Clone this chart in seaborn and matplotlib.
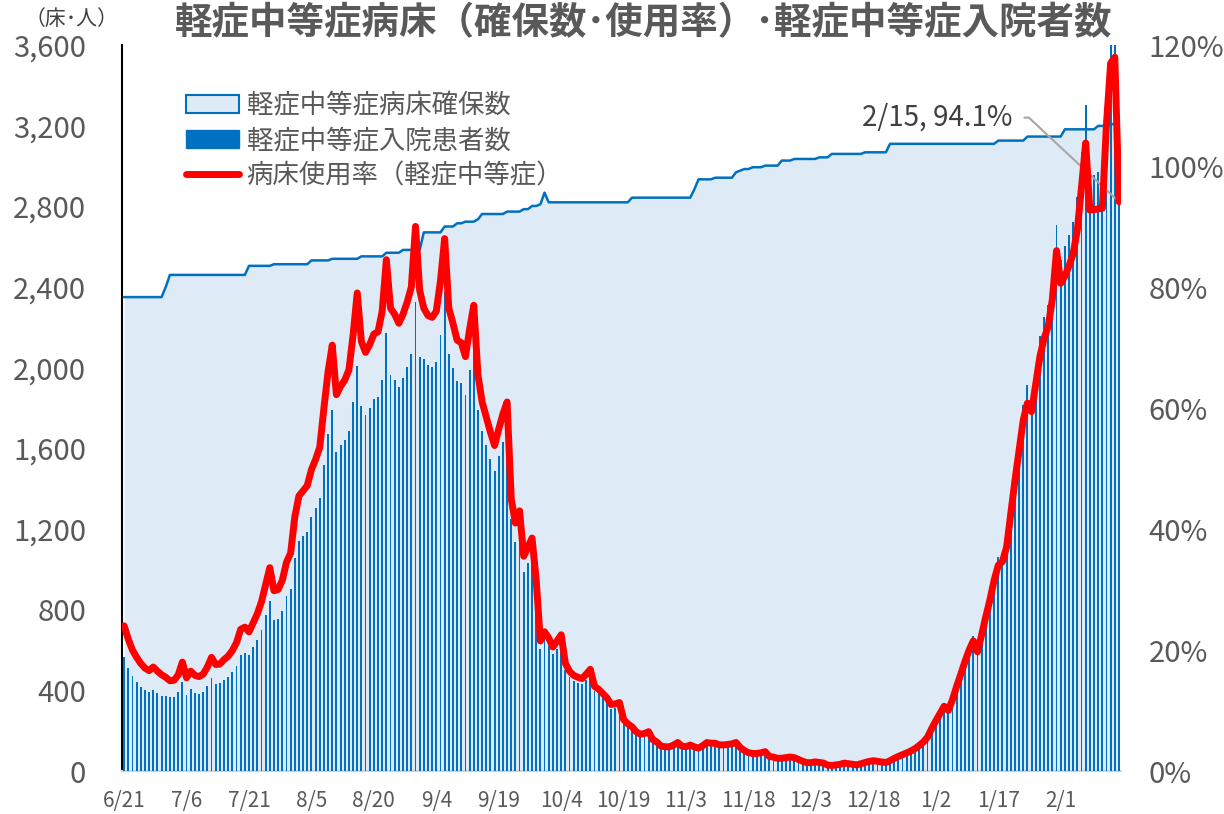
import numpy as np
import pandas as pd
import seaborn as sns
import matplotlib.pyplot as plt
from matplotlib.patches import Patch
from matplotlib.lines import Line2D
from matplotlib.ticker import FuncFormatter

sns.set_theme(style="white")
plt.rcParams['font.family'] = ['Noto Sans CJK JP', 'DejaVu Sans']

#-----------------------------------#
# Data (one value per day, 6/21 - 2/15)
#-----------------------------------#

# secured beds (軽症中等症病床確保数)
capacity = [
    2350, 2350, 2350, 2350, 2350, 2350, 2350, 2350, 2350, 2350, 2400, 2460, 2460, 2460, 2460,
    2460, 2460, 2460, 2460, 2460, 2460, 2460, 2460, 2460, 2460, 2460, 2460, 2460, 2460, 2460,
    2505, 2505, 2505, 2505, 2505, 2505, 2513, 2513, 2513, 2513, 2513, 2513, 2513, 2513, 2513,
    2532, 2532, 2532, 2532, 2532, 2540, 2540, 2540, 2540, 2540, 2540, 2540, 2552, 2552, 2552,
    2552, 2552, 2552, 2570, 2570, 2570, 2570, 2584, 2584, 2584, 2584, 2584, 2671, 2671, 2671,
    2671, 2671, 2700, 2700, 2700, 2716, 2716, 2724, 2724, 2724, 2736, 2762, 2762, 2762, 2762,
    2762, 2762, 2774, 2774, 2774, 2774, 2786, 2786, 2802, 2802, 2810, 2868, 2820, 2820, 2820,
    2820, 2820, 2820, 2820, 2820, 2820, 2820, 2820, 2820, 2820, 2820, 2820, 2820, 2820, 2820,
    2820, 2820, 2843, 2843, 2843, 2843, 2843, 2843, 2843, 2843, 2843, 2843, 2843, 2843, 2843,
    2843, 2843, 2885, 2934, 2934, 2934, 2934, 2942, 2942, 2942, 2942, 2942, 2969, 2977, 2985,
    2985, 2994, 2994, 2994, 3002, 3002, 3002, 3002, 3027, 3027, 3027, 3035, 3035, 3035, 3035,
    3035, 3035, 3043, 3043, 3043, 3060, 3060, 3060, 3060, 3060, 3060, 3060, 3060, 3068, 3068,
    3068, 3068, 3068, 3068, 3110, 3110, 3110, 3110, 3110, 3110, 3110, 3110, 3110, 3110, 3110,
    3110, 3110, 3110, 3110, 3110, 3110, 3110, 3110, 3110, 3110, 3110, 3110, 3110, 3110, 3110,
    3126, 3126, 3126, 3126, 3126, 3126, 3126, 3146, 3146, 3146, 3146, 3146, 3146, 3146, 3146,
    3146, 3182, 3182, 3182, 3182, 3182, 3182, 3182, 3182, 3199, 3199, 3199, 3208, 3208, 3208,
]

# inpatients (軽症中等症入院患者数)
patients = [
    564, 512, 470, 442, 418, 400, 390, 404, 388, 374, 372, 367, 369, 391, 443,
    379, 406, 389, 384, 394, 423, 462, 433, 435, 453, 467, 490, 522, 576, 585,
    576, 614, 651, 701, 772, 842, 749, 754, 792, 867, 905, 1055, 1143, 1164, 1186,
    1261, 1304, 1355, 1519, 1671, 1788, 1580, 1615, 1641, 1684, 1829, 2007, 1812, 1766, 1799,
    1843, 1853, 1940, 2172, 1966, 1940, 1902, 1951, 2003, 2067, 2326, 2054, 2043, 2011, 2003,
    2030, 2164, 2376, 2066, 1998, 1934, 1923, 1866, 1989, 2097, 1792, 1685, 1616, 1547, 1486,
    1561, 1630, 1692, 1248, 1137, 1193, 989, 1031, 1079, 883, 604, 660, 620, 578, 606,
    635, 502, 465, 446, 437, 431, 451, 474, 395, 381, 361, 341, 310, 313, 319,
    240, 220, 208, 185, 173, 176, 185, 148, 136, 117, 114, 114, 122, 134, 117,
    114, 122, 115, 111, 123, 138, 135, 135, 127, 127, 129, 132, 140, 116, 101,
    90, 87, 87, 90, 96, 72, 69, 63, 64, 67, 70, 67, 58, 49, 42,
    42, 46, 43, 40, 30, 28, 31, 34, 40, 37, 34, 31, 37, 43, 49,
    52, 49, 46, 43, 53, 65, 75, 84, 93, 103, 115, 131, 149, 174, 218,
    258, 295, 333, 311, 367, 435, 498, 563, 622, 669, 613, 700, 793, 880, 980,
    1063, 1082, 1157, 1329, 1500, 1657, 1813, 1913, 1869, 2013, 2155, 2249, 2312, 2454, 2706,
    2536, 2603, 2657, 2721, 2848, 3071, 3303, 2950, 2953, 2972, 2975, 3423, 3753, 3785, 3019,
]

tick_labels = ["6/21", "7/6", "7/21", "8/5", "8/20", "9/4", "9/19", "10/4",
               "10/19", "11/3", "11/18", "12/3", "12/18", "1/2", "1/17", "2/1"]
last_label = "2/15"

title = "軽症中等症病床（確保数･使用率）･軽症中等症入院者数"
legend_labels = ["軽症中等症病床確保数", "軽症中等症入院患者数", "病床使用率（軽症中等症）"]

df = pd.DataFrame({"day": np.arange(len(capacity)),
                   "capacity": capacity,
                   "patients": patients})
df["rate"] = df["patients"] / df["capacity"] * 100   # 病床使用率

#-----------------------------------#
# Plot
#-----------------------------------#

GRAY = "#595959"
BLUE = "#0070C0"
FILL = "#DEEBF7"

fig = plt.figure(figsize=(12.24, 8.14), dpi=100)
ax = fig.add_axes([0.0997, 0.0528, 0.8162, 0.8919])

sns.barplot(data=df, x="day", y="patients", color=BLUE, saturation=1,
            width=0.45, linewidth=0, errorbar=None, ax=ax, zorder=3)
ax.fill_between(df["day"], 0, df["capacity"], color=FILL, lw=0, zorder=1)
sns.lineplot(data=df, x="day", y="capacity", color=BLUE, lw=1.8, ax=ax, zorder=2)

ax.set_xlim(-0.5, len(df) - 0.5)
ax.set_ylim(0, 3600)
ax.set_yticks(range(0, 3601, 400))
ax.yaxis.set_major_formatter(FuncFormatter(lambda v, p: f"{v:,.0f}"))
ax.set_xticks(range(0, len(df), 15))
ax.set_xticklabels(tick_labels)
ax.set_xlabel("")
ax.set_ylabel("")

ax2 = ax.twinx()
sns.lineplot(data=df, x="day", y="rate", color="#FF0000", lw=5, ax=ax2, zorder=4)
ax2.set_ylim(0, 120)
ax2.set_yticks(range(0, 121, 20))
ax2.yaxis.set_major_formatter(FuncFormatter(lambda v, p: f"{v:.0f}%"))
ax2.set_ylabel("")

for s in ["top", "right"]:
    ax.spines[s].set_visible(False)
ax.spines["left"].set_color("black")
ax.spines["left"].set_linewidth(1.5)
ax.spines["bottom"].set_color("#C8D4E3")
ax.spines["bottom"].set_linewidth(1.5)
for s in ax2.spines.values():
    s.set_visible(False)

ax.tick_params(axis="y", length=0, pad=26, labelsize=21, labelcolor=GRAY)
ax.tick_params(axis="x", length=0, pad=14, labelsize=15, labelcolor=GRAY)
ax2.tick_params(axis="y", length=0, pad=20, labelsize=21, labelcolor=GRAY)

fig.text(0.526, 0.972, title, ha="center", va="center", fontsize=27,
         fontweight="bold", color=GRAY)
fig.text(0.058, 0.977, "（床･人）", ha="center", va="center", fontsize=15, color="#404040")

handles = [Patch(facecolor=FILL, edgecolor=BLUE, lw=1.5),
           Patch(facecolor=BLUE, edgecolor=BLUE),
           Line2D([0], [0], color="#FF0000", lw=5)]
ax2.legend(handles, legend_labels, loc="upper left", bbox_to_anchor=(0.064, 0.935),
           frameon=False, fontsize=19, handlelength=2.0, handleheight=0.7,
           handletextpad=0.3, labelspacing=0.3, borderpad=0, borderaxespad=0,
           labelcolor=GRAY)

last = df.iloc[-1]
ax2.annotate(f"{last_label}, {last['rate']:.1f}%", xy=(last["day"], last["rate"]),
             xytext=(213.5, 108), ha="right", va="center", fontsize=20, color="#404040",
             arrowprops=dict(arrowstyle="-", color="#A6A6A6", lw=1.5, shrinkA=6, shrinkB=0,
                             relpos=(1, 0.5),
                             connectionstyle="angle,angleA=0,angleB=137,rad=0"))

fig.savefig("out.png", dpi=100)
